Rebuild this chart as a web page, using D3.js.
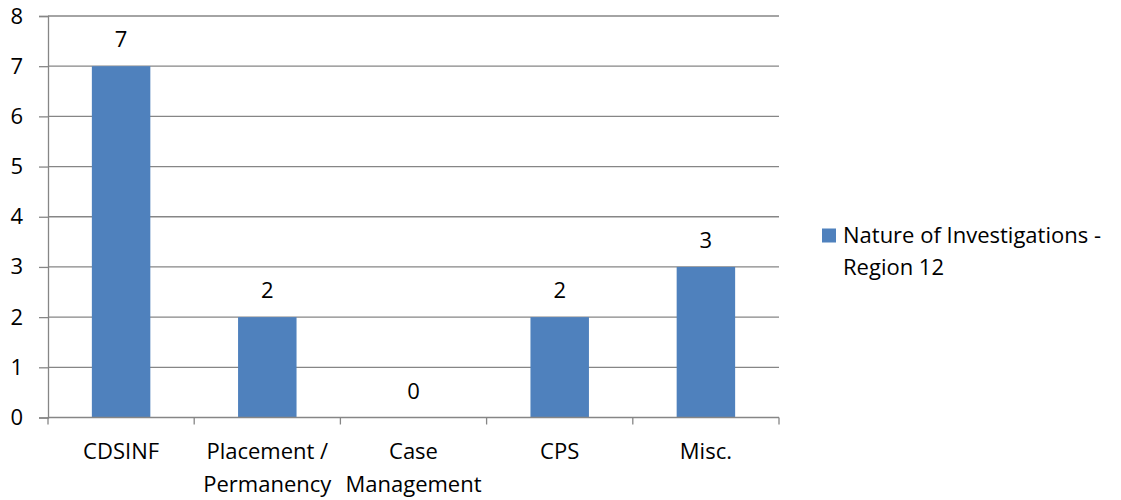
<!DOCTYPE html>
<html>
<head>
<meta charset="utf-8">
<script src="https://cdn.jsdelivr.net/npm/d3@7"></script>
<style>
  html, body { margin: 0; padding: 0; background: #ffffff; }
  svg { display: block; }
  text { font-family: "Open Sans", "Liberation Sans", sans-serif; fill: #000; }
</style>
</head>
<body>
<svg id="chart" width="1121" height="500"></svg>
<script>
// Categories and their wrapped label lines
const categories = ["CDSINF", "Placement / Permanency", "Case Management", "CPS", "Misc."];
const categoryLines = [["CDSINF"], ["Placement /", "Permanency"], ["Case", "Management"], ["CPS"], ["Misc."]];
// Series values
const seriesName = "Nature of Investigations - Region 12";
const legendLines = ["Nature of Investigations -", "Region 12"];
const values = [7, 2, 0, 2, 3];
// Value axis ticks
const yTicks = [0, 1, 2, 3, 4, 5, 6, 7, 8];

const svg = d3.select("#chart");
const barColor = "#4F81BD";
const gridColor = "#868686";
const fontSize = 22;

const x = d3.scaleBand()
  .domain(categories)
  .range([48, 779])
  .paddingInner(0.6)
  .paddingOuter(0.3);

const y = d3.scaleLinear()
  .domain([0, 8])
  .range([417.5, 16]);

// Horizontal gridlines
svg.append("g")
  .selectAll("line")
  .data(yTicks.filter(d => d > 0))
  .join("line")
  .attr("x1", 48).attr("x2", 779)
  .attr("y1", d => y(d)).attr("y2", d => y(d))
  .attr("stroke", gridColor).attr("stroke-width", 1.3);

// Value axis
const yAxis = d3.axisLeft(y).tickValues(yTicks).tickSize(9).tickPadding(16).tickFormat(d3.format("d"));
const gy = svg.append("g").attr("transform", "translate(48,0)").call(yAxis);
gy.select(".domain").attr("stroke", gridColor).attr("stroke-width", 1.3);
gy.selectAll(".tick line").attr("stroke", gridColor).attr("stroke-width", 1.3);
gy.selectAll(".tick text").attr("font-size", fontSize).attr("font-family", null).attr("fill", "#000");

// Bars
svg.append("g")
  .selectAll("rect")
  .data(values)
  .join("rect")
  .attr("x", (d, i) => x(categories[i]))
  .attr("width", x.bandwidth())
  .attr("y", d => y(d))
  .attr("height", d => y(0) - y(d))
  .attr("fill", barColor);

// Category axis with ticks at band boundaries
const step = x.step();
const x0 = x.range()[0];
const boundaries = d3.range(categories.length + 1).map(i => x0 + i * step);
const gx = svg.append("g");
gx.append("line")
  .attr("x1", x0).attr("x2", x.range()[1])
  .attr("y1", y(0)).attr("y2", y(0))
  .attr("stroke", gridColor).attr("stroke-width", 1.3);
gx.selectAll("line.tick")
  .data(boundaries)
  .join("line")
  .attr("class", "tick")
  .attr("x1", d => d).attr("x2", d => d)
  .attr("y1", y(0)).attr("y2", y(0) + 7)
  .attr("stroke", gridColor).attr("stroke-width", 1.3);

// Category labels
const labels = svg.append("g")
  .selectAll("text")
  .data(categories)
  .join("text")
  .attr("text-anchor", "middle")
  .attr("font-size", fontSize)
  .attr("x", d => x(d) + x.bandwidth() / 2)
  .attr("y", 459);
labels.each(function (d, i) {
  d3.select(this).selectAll("tspan")
    .data(categoryLines[i])
    .join("tspan")
    .attr("x", x(d) + x.bandwidth() / 2)
    .attr("dy", (t, j) => j === 0 ? 0 : 33)
    .text(t => t);
});

// Value labels
svg.append("g")
  .selectAll("text")
  .data(values)
  .join("text")
  .attr("text-anchor", "middle")
  .attr("font-size", fontSize)
  .attr("x", (d, i) => x(categories[i]) + x.bandwidth() / 2)
  .attr("y", d => y(d) - 19)
  .text(d => d);

// Legend
const legend = svg.append("g").attr("class", "legend");
legend.append("rect")
  .attr("x", 822).attr("y", 228.5)
  .attr("width", 14).attr("height", 14)
  .attr("fill", barColor);
legend.append("text")
  .attr("font-size", fontSize)
  .attr("x", 843).attr("y", 242.5)
  .selectAll("tspan")
  .data(legendLines)
  .join("tspan")
  .attr("x", 843)
  .attr("dy", (t, j) => j === 0 ? 0 : 32.5)
  .text(t => t);
legend.append("title").text(seriesName);
</script>
</body>
</html>
